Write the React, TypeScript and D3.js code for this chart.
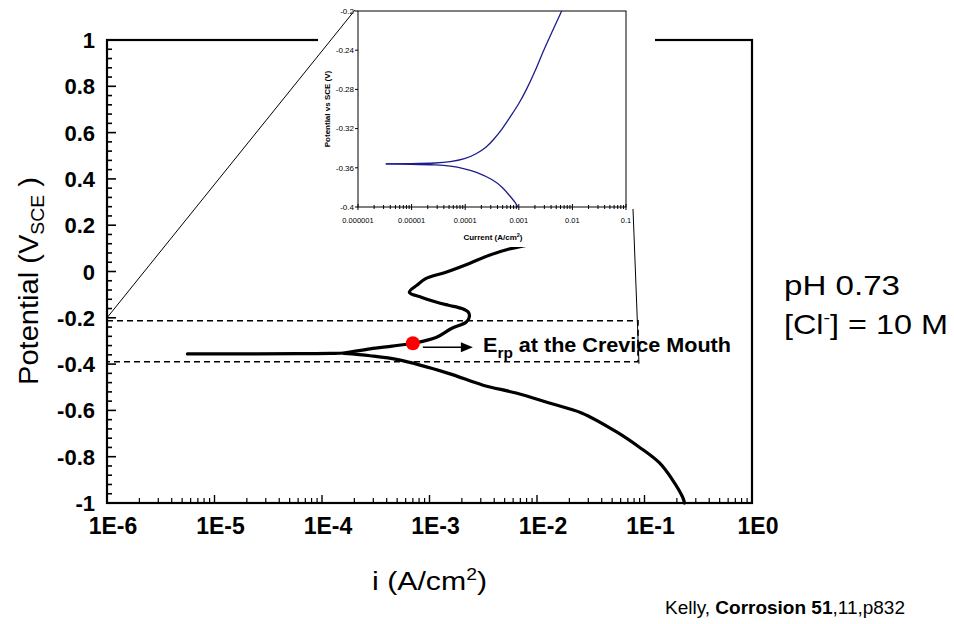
import React from "react";
import * as d3 from "d3";

// Main polarisation scan: active branch with the loop above E_rp
const anodicCurrent = [5.6e-6, 2e-5, 6e-5, 1.2e-4, 1.6e-4, 2.8e-4, 4.5e-4, 7e-4, 1.15e-3, 1.6e-3, 2.2e-3, 2.35e-3, 2.3e-3, 2.0e-3, 1.5e-3, 1.15e-3, 8.5e-4, 6.5e-4, 7.6e-4, 9.3e-4, 1.4e-3, 2.35e-3, 3.6e-3, 5.5e-3, 1.05e-2];
const anodicPotential = [-0.356, -0.356, -0.355, -0.354, -0.352, -0.334, -0.322, -0.31, -0.285, -0.246, -0.218, -0.195, -0.176, -0.16, -0.146, -0.132, -0.112, -0.09, -0.06, -0.03, -0.004, 0.035, 0.07, 0.097, 0.125];

// Cathodic branch
const cathodicCurrent = [1.6e-4, 2.8e-4, 5.2e-4, 1.5e-3, 3.1e-3, 6.4e-3, 1.3e-2, 2.6e-2, 5.5e-2, 8.9e-2, 0.138, 0.182, 0.226, 0.236];
const cathodicPotential = [-0.354, -0.364, -0.382, -0.44, -0.49, -0.525, -0.568, -0.611, -0.693, -0.758, -0.827, -0.9, -0.974, -1.0];

// Inset: modelled polarisation curve near the corrosion potential
const insetAnodicCurrent = [3.3e-6, 1e-5, 3e-5, 5.2e-5, 1e-4, 1.6e-4, 2.5e-4, 3.3e-4, 5e-4, 6.9e-4, 1e-3, 1.4e-3, 2e-3, 2.9e-3, 4.3e-3, 6.3e-3];
const insetAnodicPotential = [-0.356, -0.3558, -0.3552, -0.354, -0.351, -0.346, -0.339, -0.332, -0.32, -0.308, -0.295, -0.28, -0.262, -0.24, -0.22, -0.2];
const insetCathodicCurrent = [3.3e-6, 1e-5, 3e-5, 5.2e-5, 1e-4, 1.6e-4, 3.3e-4, 5e-4, 6.9e-4, 8.5e-4, 9.6e-4];
const insetCathodicPotential = [-0.356, -0.3563, -0.357, -0.358, -0.361, -0.364, -0.372, -0.38, -0.389, -0.395, -0.4];

// Axes
const xDecades = [1e-6, 1e-5, 1e-4, 1e-3, 1e-2, 1e-1, 1];
const xTickLabels = ["1E-6", "1E-5", "1E-4", "1E-3", "1E-2", "1E-1", "1E0"];
const yTicks = [1, 0.8, 0.6, 0.4, 0.2, 0, -0.2, -0.4, -0.6, -0.8, -1];
const yTickLabels = ["1", "0.8", "0.6", "0.4", "0.2", "0", "-0.2", "-0.4", "-0.6", "-0.8", "-1"];
const insetXTicks = [1e-6, 1e-5, 1e-4, 1e-3, 1e-2, 1e-1];
const insetXLabels = ["0.000001", "0.00001", "0.0001", "0.001", "0.01", "0.1"];
const insetYTicks = [-0.2, -0.24, -0.28, -0.32, -0.36, -0.4];
const insetYLabels = ["-0.2", "-0.24", "-0.28", "-0.32", "-0.36", "-0.4"];

// Repassivation potential marker and the zoomed window
const erpCurrent = 7e-4;
const erpPotential = -0.31;
const windowTop = -0.213;
const windowBottom = -0.39;
const windowRight = 0.087;

const FONT = "'Liberation Sans', Arial, Helvetica, sans-serif";

export default function App() {
  const W = 954;
  const H = 624;
  const left = 107, right = 752, top = 40, bottom = 503;

  const x = d3.scaleLog().domain([1e-6, 1]).range([left, right]);
  const y = d3.scaleLinear().domain([-1, 1]).range([bottom, top]);

  const iL = 358, iR = 626, iT = 11, iB = 207;
  const ix = d3.scaleLog().domain([1e-6, 0.1]).range([iL, iR]);
  const iy = d3.scaleLinear().domain([-0.4, -0.2]).range([iB, iT]);

  const mainLine = d3
    .line<number>()
    .x((_, k) => x(anodicCurrent[k]))
    .y((p) => y(p))
    .curve(d3.curveCatmullRom.alpha(0.5));
  const cathLine = d3
    .line<number>()
    .x((_, k) => x(cathodicCurrent[k]))
    .y((p) => y(p))
    .curve(d3.curveCatmullRom.alpha(0.5));
  const insetA = d3
    .line<number>()
    .x((_, k) => ix(insetAnodicCurrent[k]))
    .y((p) => iy(p))
    .curve(d3.curveBasis);
  const insetC = d3
    .line<number>()
    .x((_, k) => ix(insetCathodicCurrent[k]))
    .y((p) => iy(p))
    .curve(d3.curveBasis);

  const minorX: number[] = [];
  xDecades.slice(0, -1).forEach((d) => {
    for (let k = 2; k <= 9; k++) minorX.push(d * k);
  });
  const insetMinorX: number[] = [];
  insetXTicks.slice(0, -1).forEach((d) => {
    for (let k = 2; k <= 9; k++) insetMinorX.push(d * k);
  });
  const minorY = d3.range(0, 51).map((k) => -1 + k * 0.04);

  const ex = x(erpCurrent);
  const ey = y(erpPotential);

  return (
    <svg
      width={W}
      height={H}
      style={{ position: "absolute", left: 0, top: 0, background: "#fff" }}
      fontFamily={FONT}
    >
      <rect width={W} height={H} fill="#fff" />

      {/* frame */}
      <rect x={left} y={top} width={right - left} height={bottom - top} fill="none" stroke="#000" strokeWidth={2.2} />

      {/* left axis ticks (inward) */}
      {minorY.map((v, k) => (
        <line key={"ym" + k} x1={left} x2={left + (k % 5 === 0 ? 9 : 5)} y1={y(v)} y2={y(v)} stroke="#000" strokeWidth={1.6} />
      ))}
      {/* bottom axis ticks (inward) */}
      {xDecades.map((d, k) => (
        <line key={"xM" + k} x1={x(d)} x2={x(d)} y1={bottom} y2={bottom - 8} stroke="#000" strokeWidth={1.4} />
      ))}
      {minorX.map((d, k) => (
        <line key={"xm" + k} x1={x(d)} x2={x(d)} y1={bottom} y2={bottom - 5} stroke="#000" strokeWidth={1.2} />
      ))}

      {/* tick labels */}
      {yTicks.map((v, k) => (
        <text key={"yl" + k} x={95} y={y(v) + 8} textAnchor="end" fontSize={22} fontWeight="bold">
          {yTickLabels[k]}
        </text>
      ))}
      {xDecades.map((d, k) => (
        <text key={"xl" + k} x={x(d) + 6} y={534} textAnchor="middle" fontSize={23} fontWeight="bold">
          {xTickLabels[k]}
        </text>
      ))}

      {/* axis titles */}
      <text transform="translate(38,281) rotate(-90)" textAnchor="middle" fontSize={27} textLength={208} lengthAdjust="spacingAndGlyphs">
        Potential (V
        <tspan fontSize={18} dy={6}>SCE</tspan>
        <tspan dy={-6}> )</tspan>
      </text>
      <text x={372} y={590} fontSize={25} textLength={115} lengthAdjust="spacingAndGlyphs">
        i (A/cm
        <tspan fontSize={16} dy={-10}>2</tspan>
        <tspan dy={10}>)</tspan>
      </text>

      {/* zoomed window */}
      <path
        d={`M${left},${y(windowTop)}H${x(windowRight)}V${y(windowBottom)}H${left}`}
        fill="none"
        stroke="#000"
        strokeWidth={1.6}
        strokeDasharray="6,4"
      />

      {/* measured curve */}
      <path d={mainLine(anodicPotential) ?? ""} fill="none" stroke="#000" strokeWidth={3.2} strokeLinejoin="round" strokeLinecap="round" />
      <path d={cathLine(cathodicPotential) ?? ""} fill="none" stroke="#000" strokeWidth={3.2} strokeLinejoin="round" strokeLinecap="round" />

      {/* E_rp marker */}
      <circle cx={ex} cy={ey} r={7} fill="#ff0000" />
      <line x1={ex + 10} x2={ex + 50} y1={ey + 4} y2={ey + 4} stroke="#000" strokeWidth={1.5} />
      <path d={`M${ex + 60},${ey + 4}L${ex + 48},${ey - 1}L${ex + 48},${ey + 9}Z`} fill="#000" />
      <text x={483} y={352} fontSize={21} fontWeight="bold" textLength={248} lengthAdjust="spacingAndGlyphs">
        E<tspan fontSize={15} dy={6}>rp</tspan>
        <tspan dy={-6}> at the Crevice Mouth</tspan>
      </text>

      {/* inset panel */}
      <rect x={318} y={0} width={337} height={247} fill="#fff" />
      <line x1={x(1e-6)} y1={y(-0.2)} x2={iL - 3} y2={iT - 1} stroke="#000" strokeWidth={1} />
      <line x1={iR + 7} y1={iB + 2} x2={x(windowRight) + 1} y2={y(windowBottom) + 2} stroke="#000" strokeWidth={1} />
      <rect x={iL} y={iT} width={iR - iL} height={iB - iT} fill="none" stroke="#000" strokeWidth={1} />
      {insetYTicks.map((v, k) => (
        <g key={"iy" + k}>
          <line x1={iL - 3} x2={iL} y1={iy(v)} y2={iy(v)} stroke="#000" strokeWidth={1} />
          <text x={iL - 4} y={iy(v) + 2.8} textAnchor="end" fontSize={8}>
            {insetYLabels[k]}
          </text>
        </g>
      ))}
      {insetXTicks.map((d, k) => (
        <g key={"ix" + k}>
          <line x1={ix(d)} x2={ix(d)} y1={iB - 3} y2={iB + 3} stroke="#000" strokeWidth={1} />
          <text x={ix(d)} y={iB + 16} textAnchor="middle" fontSize={7.5}>
            {insetXLabels[k]}
          </text>
        </g>
      ))}
      {insetMinorX.map((d, k) => (
        <line key={"ixm" + k} x1={ix(d)} x2={ix(d)} y1={iB - 2} y2={iB + 2} stroke="#000" strokeWidth={1} />
      ))}
      <text x={(iL + iR) / 2 + 1} y={iB + 33} textAnchor="middle" fontSize={8} fontWeight="bold">
        Current (A/cm<tspan fontSize={5.5} dy={-3}>2</tspan>
        <tspan dy={3}>)</tspan>
      </text>
      <text transform={`translate(330,${(iT + iB) / 2}) rotate(-90)`} textAnchor="middle" fontSize={8} fontWeight="bold">
        Potential vs SCE (V)
      </text>
      <path d={insetA(insetAnodicPotential) ?? ""} fill="none" stroke="#1c1c8c" strokeWidth={1.3} />
      <path d={insetC(insetCathodicPotential) ?? ""} fill="none" stroke="#1c1c8c" strokeWidth={1.3} />

      {/* conditions */}
      <text x={784} y={295} fontSize={28} textLength={116} lengthAdjust="spacingAndGlyphs">
        pH 0.73
      </text>
      <text x={784} y={334} fontSize={28} textLength={164} lengthAdjust="spacingAndGlyphs">
        [Cl<tspan fontSize={17} dy={-11}>-</tspan>
        <tspan dy={11}>] = 10 M</tspan>
      </text>

      {/* source */}
      <text x={665} y={614} fontSize={17.5} textLength={240} lengthAdjust="spacingAndGlyphs">
        Kelly, <tspan fontWeight="bold">Corrosion 51</tspan>,11,p832
      </text>
    </svg>
  );
}
